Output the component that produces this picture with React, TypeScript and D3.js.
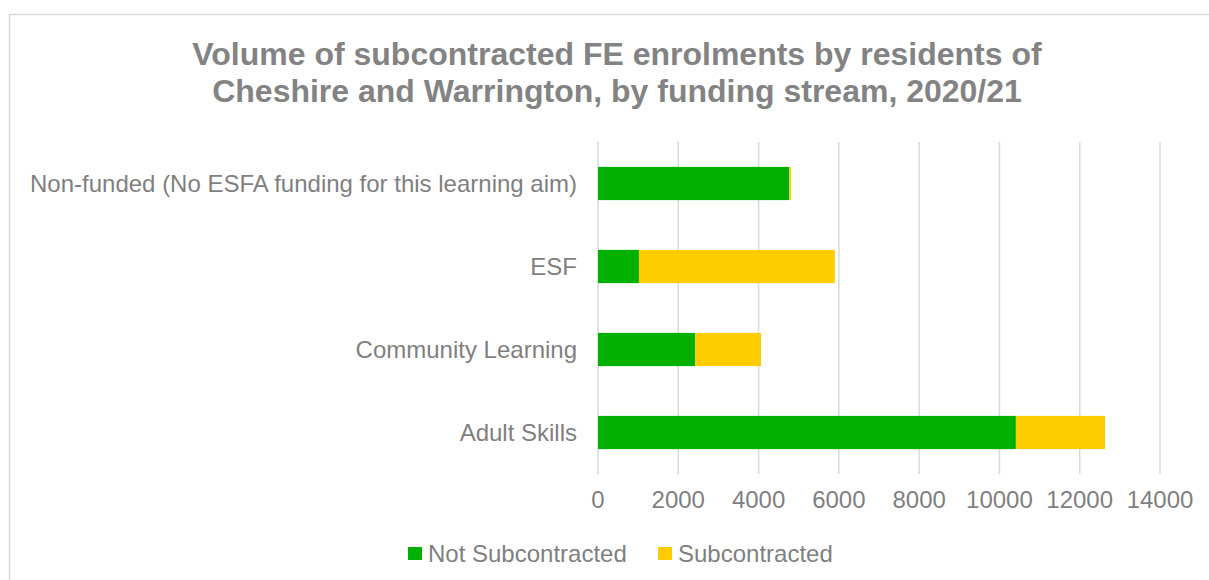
import React from "react";
import * as d3 from "d3";

const categories = [
  "Non-funded (No ESFA funding for this learning aim)",
  "ESF",
  "Community Learning",
  "Adult Skills",
];
const notSubcontracted = [4760, 1020, 2420, 10410];
const subcontracted = [50, 4880, 1640, 2220];
const seriesNames = ["Not Subcontracted", "Subcontracted"];
const seriesColors = ["#00b000", "#ffcc00"];
const xTicks = [0, 2000, 4000, 6000, 8000, 10000, 12000, 14000];

export default function App() {
  const W = 1209, H = 580;
  const left = 598, right = 1160, top = 142, bottom = 474;
  const x = d3.scaleLinear().domain([0, 14000]).range([left, right]);
  const y = d3.scaleBand().domain(categories).range([top, bottom]).paddingInner(0.6).paddingOuter(0.3);
  const textColor = "#7f7f7f";
  const font = "'Liberation Sans', Arial, sans-serif";
  const stacked = categories.map((c, i) => {
    const a = notSubcontracted[i];
    const b = subcontracted[i];
    return { c, segs: [[0, a], [a, a + b]] };
  });
  return (
    <svg width={W} height={H} style={{ position: "absolute", left: 0, top: 0, fontFamily: font }}>
      <rect x={0} y={0} width={W} height={H} fill="#fff" />
      <rect x={9.5} y={14.5} width={W + 20} height={H + 20} fill="none" stroke="#d9d9d9" strokeWidth={1.5} />
      <text x={617} y={65} textAnchor="middle" fontSize={32} fontWeight="bold" fill="#838383">
        Volume of subcontracted FE enrolments by residents of
      </text>
      <text x={617} y={102} textAnchor="middle" fontSize={32} fontWeight="bold" fill="#838383">
        Cheshire and Warrington, by funding stream, 2020/21
      </text>
      {xTicks.map((t) => (
        <line key={t} x1={x(t)} x2={x(t)} y1={top} y2={bottom} stroke="#d9d9d9" strokeWidth={1.5} />
      ))}
      {stacked.map((s) =>
        s.segs.map((seg, j) => (
          <rect key={s.c + j} x={x(seg[0])} y={y(s.c)} width={x(seg[1]) - x(seg[0])} height={y.bandwidth()} fill={seriesColors[j]} />
        ))
      )}
      {categories.map((c) => (
        <text key={c} x={577} y={(y(c) as number) + y.bandwidth() / 2} dy="0.35em" textAnchor="end" fontSize={24} fill={textColor}>
          {c}
        </text>
      ))}
      {xTicks.map((t) => (
        <text key={t} x={x(t)} y={508} textAnchor="middle" fontSize={24} fill={textColor}>
          {t}
        </text>
      ))}
      {seriesNames.map((n, i) => {
        const lx = [408, 658][i];
        return (
          <g key={n}>
            <rect x={lx} y={547} width={14} height={13} fill={seriesColors[i]} />
            <text x={lx + 20} y={562} fontSize={24} fill={textColor}>{n}</text>
          </g>
        );
      })}
    </svg>
  );
}
